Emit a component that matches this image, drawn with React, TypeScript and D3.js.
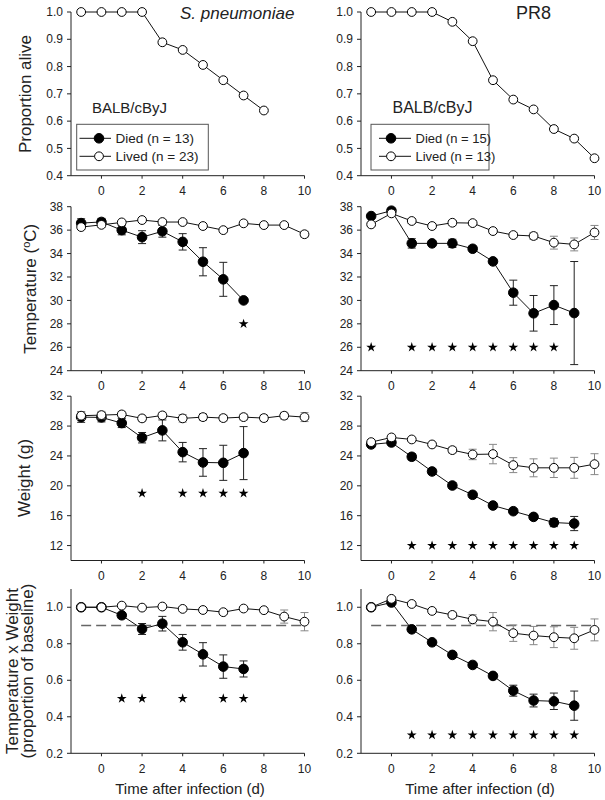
import React from 'react';
import * as d3 from 'd3';

const days = [-1, 0, 1, 2, 3, 4, 5, 6, 7, 8, 9, 10];
const xTickVals = [0, 2, 4, 6, 8, 10];

// Row 1: proportion alive
const spSurvival = [1, 1, 1, 1, 0.889, 0.861, 0.806, 0.75, 0.694, 0.639];
const pr8Survival = [1, 1, 1, 1, 0.964, 0.893, 0.75, 0.679, 0.643, 0.571, 0.536, 0.464];

// Row 2: temperature
const spTempDied = [36.6, 36.7, 36.0, 35.4, 35.9, 35.0, 33.3, 31.8, 30.0];
const spTempDiedErr = [0.37, 0.3, 0.4, 0.55, 0.5, 0.7, 1.2, 1.45, 0.15];
const spTempLived = [36.26, 36.45, 36.66, 36.86, 36.69, 36.69, 36.35, 36.0, 36.58, 36.43, 36.43, 35.65];
const spTempLivedErr = [0.2, 0.2, 0.15, 0.15, 0.15, 0.15, 0.15, 0.15, 0.15, 0.15, 0.15, 0.25];
const spTempStarDays = [7];
const pr8TempDied = [37.2, 37.66, 34.87, 34.87, 34.87, 34.41, 33.33, 30.66, 28.9, 29.6, 28.92];
const pr8TempDiedErr = [0.15, 0.15, 0.4, 0.2, 0.35, 0.15, 0.2, 1.07, 1.52, 1.66, 4.4];
const pr8TempLived = [36.49, 37.43, 36.78, 36.35, 36.63, 36.6, 35.92, 35.58, 35.5, 34.93, 34.78, 35.8];
const pr8TempLivedErr = [0.2, 0.2, 0.2, 0.2, 0.2, 0.2, 0.2, 0.2, 0.3, 0.55, 0.55, 0.6];
const pr8TempStarDays = [-1, 1, 2, 3, 4, 5, 6, 7, 8];

// Row 3: weight
const spWeightDied = [29.2, 29.16, 28.4, 26.44, 27.42, 24.51, 23.13, 23.08, 24.38];
const spWeightDiedErr = [0.7, 0.6, 0.6, 0.7, 1.4, 1.3, 1.85, 2.35, 3.55];
const spWeightLived = [29.39, 29.47, 29.56, 29.03, 29.43, 29.03, 29.2, 29.07, 29.2, 29.07, 29.39, 29.2];
const spWeightLivedErr = [0.5, 0.5, 0.4, 0.4, 0.4, 0.5, 0.45, 0.4, 0.4, 0.4, 0.45, 0.6];
const spWeightStarDays = [2, 4, 5, 6, 7];
const pr8WeightDied = [25.54, 25.8, 23.89, 21.92, 20.04, 18.8, 17.36, 16.6, 15.84, 15.08, 14.95];
const pr8WeightDiedErr = [0.35, 0.3, 0.4, 0.4, 0.4, 0.35, 0.3, 0.3, 0.35, 0.55, 0.95];
const pr8WeightLived = [25.85, 26.48, 26.21, 25.54, 24.78, 24.2, 24.25, 22.77, 22.41, 22.41, 22.41, 22.9];
const pr8WeightLivedErr = [0.3, 0.3, 0.3, 0.3, 0.4, 0.7, 1.3, 1.0, 1.2, 1.3, 1.4, 1.4];
const pr8WeightStarDays = [1, 2, 3, 4, 5, 6, 7, 8, 9];

// Row 4: temperature x weight
const spTWDied = [1.0, 1.0, 0.956, 0.881, 0.91, 0.808, 0.742, 0.675, 0.662];
const spTWDiedErr = [0.005, 0.005, 0.015, 0.03, 0.04, 0.043, 0.064, 0.064, 0.044];
const spTWLived = [1.0, 1.0, 1.009, 0.998, 1.004, 0.991, 0.985, 0.973, 0.993, 0.984, 0.949, 0.921];
const spTWLivedErr = [0.005, 0.005, 0.01, 0.01, 0.01, 0.01, 0.01, 0.01, 0.01, 0.01, 0.036, 0.05];
const spTWStarDays = [1, 2, 4, 6, 7];
const pr8TWDied = [1.0, 1.026, 0.879, 0.808, 0.739, 0.684, 0.624, 0.543, 0.489, 0.485, 0.461];
const pr8TWDiedErr = [0.005, 0.01, 0.01, 0.01, 0.012, 0.01, 0.012, 0.03, 0.035, 0.045, 0.08];
const pr8TWLived = [1.0, 1.046, 1.018, 0.98, 0.958, 0.934, 0.921, 0.858, 0.845, 0.836, 0.83, 0.876];
const pr8TWLivedErr = [0.005, 0.01, 0.01, 0.012, 0.015, 0.025, 0.05, 0.045, 0.05, 0.057, 0.06, 0.06];
const pr8TWStarDays = [1, 2, 3, 4, 5, 6, 7, 8, 9];

const FONT = '"Liberation Sans", Arial, Helvetica, sans-serif';
const TXT = '#222';
const AX = '#222';

const cols = [
  { x0: 71, x1: 304.5 },
  { x0: 361, x1: 594.5 },
];
const rows = [
  { top: 12, bottom: 175.7, domain: [0.4, 1.0], ticks: d3.range(0.4, 1.0001, 0.1), fmt: d3.format('.1f') },
  { top: 206.7, bottom: 370.7, domain: [24, 38], ticks: d3.range(24, 38.001, 2), fmt: d3.format('d') },
  { top: 396.2, bottom: 560.5, domain: [10, 32], ticks: d3.range(12, 32.001, 4), fmt: d3.format('d') },
  { top: 589, bottom: 753.3, domain: [0.2, 1.1], ticks: d3.range(0.2, 1.0001, 0.2), fmt: d3.format('.1f') },
];

type PanelProps = {
  col: number;
  row: number;
  died?: number[];
  diedErr?: number[];
  lived: number[];
  livedErr?: number[];
  starDays?: number[];
  starY?: number;
  dashY?: number;
};

const starPath = d3.symbol().type(d3.symbolStar).size(30)() as string;

function Series({ values, err, filled, x, y, errColor, cap }: any) {
  const pts = values.map((v: number, i: number) => [days[i], v]);
  const line = d3.line<number[]>().x((d) => x(d[0])).y((d) => y(d[1]));
  return (
    <g>
      {err &&
        pts.map((p: number[], i: number) => {
          const cx = x(p[0]);
          const yt = y(p[1] + err[i]);
          const yb = y(p[1] - err[i]);
          return (
            <g key={'e' + i} stroke={errColor} strokeWidth={1}>
              <line x1={cx} x2={cx} y1={yt} y2={yb} />
              <line x1={cx - cap} x2={cx + cap} y1={yt} y2={yt} />
              <line x1={cx - cap} x2={cx + cap} y1={yb} y2={yb} />
            </g>
          );
        })}
      <path d={line(pts) as string} fill="none" stroke="#111" strokeWidth={1} />
      {pts.map((p: number[], i: number) => (
        <circle
          key={'c' + i}
          cx={x(p[0])}
          cy={y(p[1])}
          r={filled ? 4.8 : 4.4}
          fill={filled ? '#000' : '#fff'}
          stroke="#000"
          strokeWidth={1}
        />
      ))}
    </g>
  );
}

function Panel({ col, row, died, diedErr, lived, livedErr, starDays, starY, dashY }: PanelProps) {
  const c = cols[col];
  const r = rows[row];
  const x = d3.scaleLinear().domain([-1.5, 10]).range([c.x0, c.x1]);
  const y = d3.scaleLinear().domain(r.domain).range([r.bottom, r.top]);
  return (
    <g>
      <line x1={c.x0} x2={c.x0} y1={r.top} y2={r.bottom} stroke={AX} strokeWidth={1} />
      <line x1={c.x0} x2={c.x1} y1={r.bottom} y2={r.bottom} stroke={AX} strokeWidth={1} />
      {r.ticks.map((t: number) => (
        <g key={'yt' + t}>
          <line x1={c.x0 - 4} x2={c.x0} y1={y(t)} y2={y(t)} stroke={AX} />
          <text
            x={c.x0 - 8}
            y={y(t)}
            dy="0.35em"
            textAnchor="end"
            fontSize={12}
            fontFamily={FONT}
            fill={TXT}
          >
            {r.fmt(t)}
          </text>
        </g>
      ))}
      {xTickVals.map((t) => (
        <g key={'xt' + t}>
          <line x1={x(t)} x2={x(t)} y1={r.bottom} y2={r.bottom + 3} stroke={AX} />
          <text
            x={x(t)}
            y={r.bottom + 19.5}
            textAnchor="middle"
            fontSize={12}
            fontFamily={FONT}
            fill={TXT}
          >
            {t}
          </text>
        </g>
      ))}
      {dashY !== undefined && (
        <line
          x1={x(-1)}
          x2={x(10)}
          y1={y(dashY)}
          y2={y(dashY)}
          stroke="#666"
          strokeWidth={1.5}
          strokeDasharray="10,5"
        />
      )}
      {died && <Series values={died} err={diedErr} filled x={x} y={y} errColor="#222" cap={4} />}
      <Series values={lived} err={livedErr} filled={false} x={x} y={y} errColor="#888" cap={4} />
      {starDays &&
        starDays.map((d) => (
          <path key={'s' + d} d={starPath} transform={`translate(${x(d)},${y(starY as number)})`} fill="#000" />
        ))}
    </g>
  );
}

function Legend({ x, y, w, n1, n2, lineX0, lineX1, mx, fs }: any) {
  return (
    <g fontFamily={FONT} fill={TXT}>
      <rect x={x} y={y} width={w} height={45.7} fill="#fff" stroke="#555" strokeWidth={1} />
      <line x1={lineX0} x2={lineX1} y1={y + 14} y2={y + 14} stroke="#111" />
      <circle cx={mx} cy={y + 14} r={4.8} fill="#000" stroke="#000" />
      <text x={lineX1 + 4.5} y={y + 18.5} fontSize={fs}>{`Died (n = ${n1})`}</text>
      <line x1={lineX0} x2={lineX1} y1={y + 32} y2={y + 32} stroke="#111" />
      <circle cx={mx} cy={y + 32} r={4.4} fill="#fff" stroke="#000" />
      <text x={lineX1 + 4.5} y={y + 36.5} fontSize={fs}>{`Lived (n = ${n2})`}</text>
    </g>
  );
}

export default function App() {
  return (
    <svg
      width={605}
      height={800}
      style={{ position: 'absolute', left: 0, top: 0, background: '#fff' }}
      fontFamily={FONT}
    >
      <rect x={0} y={0} width={605} height={800} fill="#fff" />
      {/* Row 1 */}
      <Panel col={0} row={0} lived={spSurvival} />
      <Panel col={1} row={0} lived={pr8Survival} />
      <text x={180} y={18.5} fontSize={17} fontStyle="italic" fill={TXT}>S. pneumoniae</text>
      <text x={533.5} y={19} fontSize={18} textAnchor="middle" fill={TXT}>PR8</text>
      <text x={92} y={112.5} fontSize={15} fill={TXT}>BALB/cByJ</text>
      <text x={392.5} y={112.5} fontSize={16} fill={TXT}>BALB/cByJ</text>
      <Legend x={76.7} y={124.3} w={131.6} n1={13} n2={23} lineX0={79.5} lineX1={111} mx={99} fs={13.5} />
      <Legend x={371} y={124.3} w={118} n1={15} n2={13} lineX0={379} lineX1={411} mx={391} fs={13} />

      {/* Row 2 */}
      <Panel col={0} row={1} died={spTempDied} diedErr={spTempDiedErr} lived={spTempLived} livedErr={spTempLivedErr} starDays={spTempStarDays} starY={28} />
      <Panel col={1} row={1} died={pr8TempDied} diedErr={pr8TempDiedErr} lived={pr8TempLived} livedErr={pr8TempLivedErr} starDays={pr8TempStarDays} starY={26} />

      {/* Row 3 */}
      <Panel col={0} row={2} died={spWeightDied} diedErr={spWeightDiedErr} lived={spWeightLived} livedErr={spWeightLivedErr} starDays={spWeightStarDays} starY={19} />
      <Panel col={1} row={2} died={pr8WeightDied} diedErr={pr8WeightDiedErr} lived={pr8WeightLived} livedErr={pr8WeightLivedErr} starDays={pr8WeightStarDays} starY={12} />

      {/* Row 4 */}
      <Panel col={0} row={3} died={spTWDied} diedErr={spTWDiedErr} lived={spTWLived} livedErr={spTWLivedErr} starDays={spTWStarDays} starY={0.5} dashY={0.9} />
      <Panel col={1} row={3} died={pr8TWDied} diedErr={pr8TWDiedErr} lived={pr8TWLived} livedErr={pr8TWLivedErr} starDays={pr8TWStarDays} starY={0.3} dashY={0.9} />

      {/* Y axis titles */}
      <text transform="translate(31,94) rotate(-90)" textAnchor="middle" fontSize={17} fill={TXT}>Proportion alive</text>
      <text transform="translate(36,288.7) rotate(-90)" textAnchor="middle" fontSize={17} fill={TXT}>
        Temperature (<tspan fontSize={11} dy={-6}>o</tspan>
        <tspan dy={6}>C)</tspan>
      </text>
      <text transform="translate(30,478) rotate(-90)" textAnchor="middle" fontSize={17} fill={TXT}>Weight (g)</text>
      <text transform="translate(18,671) rotate(-90)" textAnchor="middle" fontSize={17} fill={TXT}>Temperature x Weight</text>
      <text transform="translate(33,671) rotate(-90)" textAnchor="middle" fontSize={17} fill={TXT}>(proportion of baseline)</text>

      {/* X axis titles */}
      <text x={190} y={794} textAnchor="middle" fontSize={15} fill={TXT}>Time after infection (d)</text>
      <text x={480} y={794} textAnchor="middle" fontSize={15} fill={TXT}>Time after infection (d)</text>
    </svg>
  );
}
